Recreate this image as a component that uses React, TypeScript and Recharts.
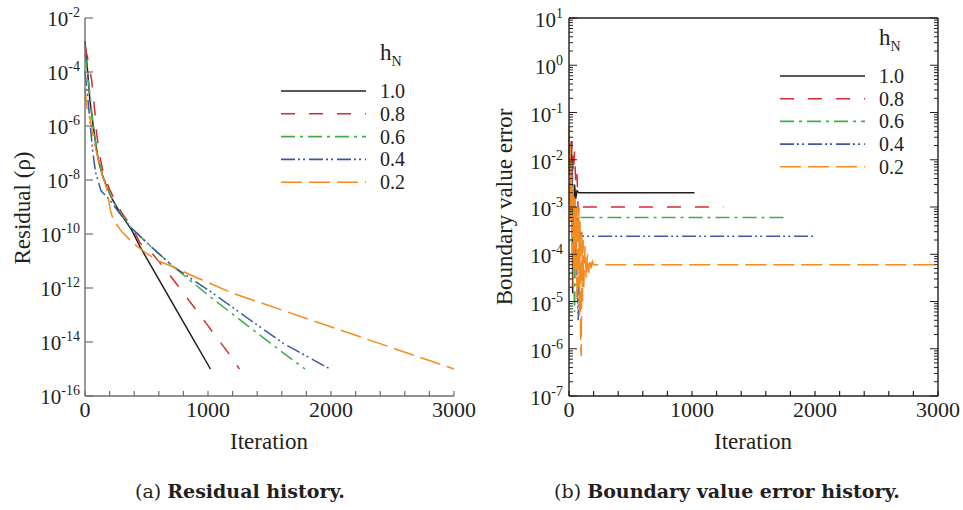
import { LineChart, Line, XAxis, YAxis } from "recharts";

const FONT = "Liberation Serif, Times New Roman, Times, serif";
const CAPTION_FONT = "DejaVu Serif, serif";
const INK = "#231f20";
const AXIS_A = "#6d6e71";
const AXIS_B = "#231f20";

// legend labels + line styles
const hN = ["1.0", "0.8", "0.6", "0.4", "0.2"];
const lineColors = ["#231f20", "#d52b32", "#40ad48", "#3b57a6", "#f58a1f"];
const lineDashes = ["0", "14 14", "14 5 3 5", "14 3 2 3 2 4", "21 7"];

// ticks
const iterTicks = [0, 200, 400, 600, 800, 1000, 1200, 1400, 1600, 1800, 2000, 2200, 2400, 2600, 2800, 3000];
const residualTicks = [1e-16, 1e-14, 1e-12, 1e-10, 1e-8, 1e-6, 1e-4, 1e-2];
const errorDecades = [1e-7, 1e-6, 1e-5, 1e-4, 1e-3, 1e-2, 1e-1, 1, 10];
const minorSteps = [2, 3, 4, 5, 6, 7, 8, 9];

// (a) residual history: [iteration, residual]
const residual10: [number, number][] = [
  [0, 1.4e-3], [20, 1.2e-4], [40, 9e-6], [67, 1e-6], [90, 1.8e-7], [108, 5.5e-8], [140, 1.6e-8],
  [176, 5.6e-9], [220, 2e-9], [271, 7.8e-10], [330, 3e-10], [380, 1.4e-10], [447, 3.4e-11],
  [600, 2.1e-12], [800, 5.5e-14], [1020, 1e-15],
];
const residual08: [number, number][] = [
  [0, 9e-4], [20, 3.5e-4], [54, 5e-5], [81, 3e-6], [95, 5e-7], [120, 8e-8], [149, 1.8e-8],
  [200, 4.5e-9], [244, 1.8e-9], [300, 6e-10], [380, 1.8e-10], [450, 4.5e-11], [550, 1.8e-11],
  [660, 4.5e-12], [786, 7.9e-13], [984, 5e-14], [1180, 3.2e-15], [1255, 1e-15],
];
const residual06: [number, number][] = [
  [0, 5e-4], [20, 1e-4], [40, 1.5e-5], [60, 2e-6], [80, 4e-7], [100, 1e-7], [130, 2.5e-8],
  [176, 5.6e-9], [220, 2e-9], [280, 7e-10], [366, 1.9e-10], [450, 8e-11], [550, 3e-11],
  [718, 6.2e-12], [1016, 4.8e-13], [1300, 4.8e-14], [1600, 4.3e-15], [1789, 1e-15],
];
const residual04: [number, number][] = [
  [0, 1e-4], [20, 1.5e-5], [40, 1.5e-6], [60, 1.5e-7], [85, 2e-8], [130, 4e-9], [203, 1.8e-9],
  [280, 6e-10], [366, 1.9e-10], [450, 8e-11], [550, 3e-11], [718, 6.2e-12], [1043, 6.3e-13],
  [1300, 9e-14], [1612, 8.9e-15], [1992, 1e-15],
];
const residual02: [number, number][] = [
  [0, 2.5e-5], [15, 5e-6], [40, 2e-6], [60, 6e-7], [80, 2e-7], [110, 5e-8], [140, 1.5e-8],
  [176, 5e-9], [205, 8e-10], [230, 3.3e-10], [300, 1.2e-10], [393, 4.5e-11], [500, 1.9e-11],
  [600, 1e-11], [718, 6e-12], [900, 2.5e-12], [1206, 6.3e-13], [3000, 1e-15],
];

// (b) boundary value error history: [iteration, error]
const error10: [number, number][] = [
  [0, 2e-2], [10, 8e-3], [20, 2.5e-2], [25, 3e-3], [30, 1.5e-5], [35, 5e-4], [45, 3e-3],
  [55, 1.5e-3], [65, 2.2e-3], [80, 2e-3], [1020, 2e-3],
];
const error08: [number, number][] = [
  [0, 3e-2], [15, 1e-2], [25, 2.5e-2], [35, 5e-3], [45, 1.5e-2], [55, 3e-3], [65, 5e-3],
  [75, 8e-4], [85, 1.2e-3], [95, 9e-4], [110, 1e-3], [1255, 1e-3],
];
const error06: [number, number][] = [
  [0, 1e-2], [15, 2e-3], [25, 8e-3], [35, 1e-4], [45, 6e-6], [55, 2e-4], [65, 8e-4],
  [75, 5e-4], [90, 6e-4], [1785, 6e-4],
];
const error04: [number, number][] = [
  [0, 1.5e-2], [15, 3e-3], [25, 8e-3], [35, 1e-3], [45, 5e-5], [55, 3e-4], [65, 3e-5],
  [75, 4e-6], [85, 1e-4], [95, 3e-4], [110, 2.4e-4], [1990, 2.4e-4],
];
const error02: [number, number][] = [
  [0, 5e-2], [5, 1e-3], [10, 2e-2], [15, 5e-4], [20, 1e-2], [25, 1e-4], [30, 3e-3], [35, 2e-5],
  [40, 2e-3], [45, 5e-5], [50, 1.5e-3], [55, 3e-5], [60, 1e-3], [65, 1e-5], [70, 6e-4],
  [75, 2e-5], [80, 1e-3], [85, 5e-6], [90, 5e-4], [95, 1e-6], [100, 7e-7], [105, 3e-4],
  [110, 1e-5], [115, 2e-4], [120, 2e-5], [130, 1.5e-4], [140, 3e-5], [150, 1e-4], [160, 4e-5],
  [170, 8e-5], [180, 5e-5], [190, 7e-5], [200, 6e-5], [3000, 6e-5],
];

const residualSeries = [residual10, residual08, residual06, residual04, residual02];
const errorSeries = [error10, error08, error06, error04, error02];

const errorTicks = [
  ...errorDecades,
  ...errorDecades.slice(0, -1).flatMap((d) => minorSteps.map((m) => d * m)),
].sort((a, b) => a - b);

const toPts = (s: [number, number][]) => s.map(([it, v]) => ({ it, v }));
const isDecade = (v: number) => Math.abs(Math.log10(v) - Math.round(Math.log10(v))) < 1e-6;

const PowLabel = ({ x, y, v }: { x: number; y: number; v: number }) => (
  <text x={x} y={y} textAnchor="end" fontFamily={FONT} fontSize={21} fill={INK}>
    10<tspan dy={-9} fontSize={14}>{Math.round(Math.log10(v))}</tspan>
  </text>
);

const bottomTick = (color: string) => (p: any) => {
  const { x, y, payload } = p;
  const major = payload.value % 1000 === 0;
  return (
    <g>
      <line x1={x} x2={x} y1={y} y2={y - 5} stroke={color} strokeWidth={1.2} />
      {major && (
        <text x={x} y={y + 21} textAnchor="middle" fontFamily={FONT} fontSize={22} fill={INK}>
          {payload.value}
        </text>
      )}
    </g>
  );
};

const topTick = (p: any) => (
  <line x1={p.x} x2={p.x} y1={p.y} y2={p.y + 5} stroke={AXIS_B} strokeWidth={1.2} />
);

const residualYTick = (p: any) => (
  <g>
    <line x1={p.x} x2={p.x + 8} y1={p.y} y2={p.y} stroke={AXIS_A} strokeWidth={1.2} />
    <PowLabel x={p.x - 5} y={p.y + 8} v={p.payload.value} />
  </g>
);

const errorYTick = (p: any) => {
  const major = isDecade(p.payload.value);
  return (
    <g>
      <line x1={p.x} x2={p.x + (major ? 8 : 4)} y1={p.y} y2={p.y} stroke={AXIS_B} strokeWidth={1} />
      {major && <PowLabel x={p.x - 6} y={p.y + 9} v={p.payload.value} />}
    </g>
  );
};

const errorYTickRight = (p: any) => {
  const major = isDecade(p.payload.value);
  return <line x1={p.x} x2={p.x - (major ? 8 : 4)} y1={p.y} y2={p.y} stroke={AXIS_B} strokeWidth={1} />;
};

function LegendBox({ x, y, rowGap }: { x: number; y: number; rowGap: number }) {
  return (
    <g>
      <text x={x + 99} y={y} fontFamily={FONT} fontSize={23} fill={INK}>
        h<tspan dy={6} fontSize={14}>N</tspan>
      </text>
      {hN.map((h, i) => {
        const ry = y + 31 + i * rowGap;
        return (
          <g key={h}>
            <line x1={x} x2={x + 85} y1={ry} y2={ry} stroke={lineColors[i]} strokeWidth={1.6}
              strokeDasharray={lineDashes[i]} />
            <text x={x + 99} y={ry + 7} fontFamily={FONT} fontSize={20} fill={INK}>{h}</text>
          </g>
        );
      })}
    </g>
  );
}

export default function App() {
  return (
    <div style={{ position: "absolute", left: 0, top: 0, width: 963, height: 510, background: "#fff" }}>
      <div style={{ position: "absolute", left: 0, top: 0 }}>
        <LineChart width={480} height={470} margin={{ top: 18, right: 26, bottom: 44, left: 25 }}>
          <XAxis type="number" dataKey="it" domain={[0, 3000]} ticks={iterTicks} interval={0}
            height={30} tickSize={0} tickMargin={0} tickLine={false}
            axisLine={{ stroke: AXIS_A, strokeWidth: 1.4 }} tick={bottomTick(AXIS_A)} />
          <YAxis type="number" scale="log" domain={[1e-16, 1e-2]} allowDataOverflow ticks={residualTicks}
            interval={0} width={60} tickSize={0} tickMargin={0} tickLine={false}
            axisLine={{ stroke: AXIS_A, strokeWidth: 1.4 }} tick={residualYTick} />
          {residualSeries.map((s, i) => (
            <Line key={hN[i]} data={toPts(s)} dataKey="v" type="linear" dot={false}
              stroke={lineColors[i]} strokeWidth={1.5} strokeDasharray={lineDashes[i]}
              isAnimationActive={false} />
          ))}
        </LineChart>
      </div>
      <div style={{ position: "absolute", left: 480, top: 0 }}>
        <LineChart width={483} height={470} margin={{ top: 17, right: 24, bottom: 44, left: 29 }}>
          <XAxis xAxisId="b" type="number" dataKey="it" domain={[0, 3000]} ticks={iterTicks} interval={0}
            height={30} tickSize={0} tickMargin={0} tickLine={false}
            axisLine={{ stroke: AXIS_B, strokeWidth: 1.4 }} tick={bottomTick(AXIS_B)} />
          <XAxis xAxisId="t" orientation="top" type="number" dataKey="it" domain={[0, 3000]} ticks={iterTicks}
            interval={0} height={1} tickSize={0} tickMargin={0} tickLine={false}
            axisLine={{ stroke: AXIS_B, strokeWidth: 1.4 }} tick={topTick} />
          <YAxis yAxisId="l" type="number" scale="log" domain={[1e-7, 10]} allowDataOverflow ticks={errorTicks}
            interval={0} width={60} tickSize={0} tickMargin={0} tickLine={false}
            axisLine={{ stroke: AXIS_B, strokeWidth: 1.4 }} tick={errorYTick} />
          <YAxis yAxisId="r" orientation="right" type="number" scale="log" domain={[1e-7, 10]} allowDataOverflow
            ticks={errorTicks} interval={0} width={1} tickSize={0} tickMargin={0} tickLine={false}
            axisLine={{ stroke: AXIS_B, strokeWidth: 1.4 }} tick={errorYTickRight} />
          {errorSeries.map((s, i) => (
            <Line key={hN[i]} xAxisId="b" yAxisId="l" data={toPts(s)} dataKey="v" type="linear" dot={false}
              stroke={lineColors[i]} strokeWidth={1.5} strokeDasharray={lineDashes[i]}
              isAnimationActive={false} />
          ))}
        </LineChart>
      </div>
      <svg width={963} height={510} style={{ position: "absolute", left: 0, top: 0, pointerEvents: "none" }}>
        <text transform="translate(30,208) rotate(-90)" textAnchor="middle" fontFamily={FONT} fontSize={23} fill={INK}>
          Residual (ρ)
        </text>
        <text x={269} y={449} textAnchor="middle" fontFamily={FONT} fontSize={23} fill={INK}>Iteration</text>
        <text transform="translate(512,207) rotate(-90)" textAnchor="middle" fontFamily={FONT} fontSize={23} fill={INK}>
          Boundary value error
        </text>
        <text x={753} y={449} textAnchor="middle" fontFamily={FONT} fontSize={23} fill={INK}>Iteration</text>
        <LegendBox x={281} y={60} rowGap={22.8} />
        <LegendBox x={780} y={45} rowGap={22.7} />
        <text x={240} y={498} textAnchor="middle" fontFamily={CAPTION_FONT} fontSize={19} fill={INK}>
          (a) <tspan fontWeight="bold">Residual history.</tspan>
        </text>
        <text x={727} y={498} textAnchor="middle" fontFamily={CAPTION_FONT} fontSize={19} fill={INK}>
          (b) <tspan fontWeight="bold">Boundary value error history.</tspan>
        </text>
      </svg>
    </div>
  );
}
